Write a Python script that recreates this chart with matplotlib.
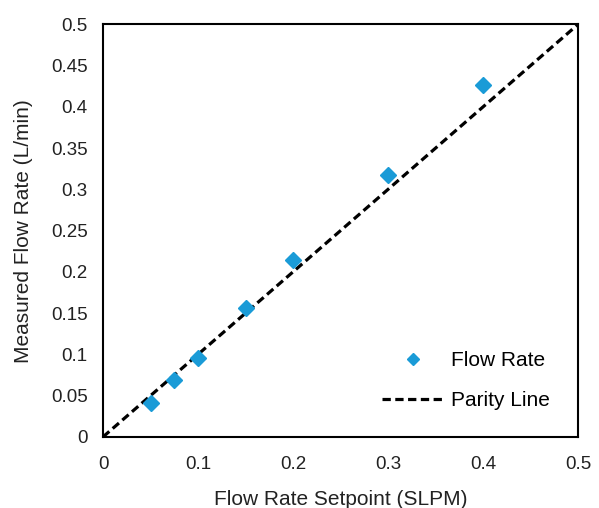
import matplotlib
matplotlib.use('Agg')
import matplotlib.pyplot as plt
import numpy as np

plt.rcParams['font.family'] = ['Liberation Sans', 'DejaVu Sans']

setpoint = [0.05, 0.075, 0.1, 0.15, 0.2, 0.3, 0.4]
measured = [0.041, 0.069, 0.096, 0.156, 0.215, 0.317, 0.426]

# Parity line end points
parity = [0, 0.5]

x_ticks = [0, 0.1, 0.2, 0.3, 0.4, 0.5]
x_tick_labels = ['0', '0.1', '0.2', '0.3', '0.4', '0.5']
y_ticks = [0, 0.05, 0.1, 0.15, 0.2, 0.25, 0.3, 0.35, 0.4, 0.45, 0.5]
y_tick_labels = ['0', '0.05', '0.1', '0.15', '0.2', '0.25', '0.3', '0.35', '0.4', '0.45', '0.5']

fig = plt.figure(figsize=(5.99, 5.08), dpi=100)
ax = fig.add_axes([0.172, 0.140, 0.793, 0.812])

ax.plot(setpoint, measured, linestyle='none', marker='D', markersize=8.5,
        color='#1a9bd7', label='Flow Rate', zorder=3)
ax.plot(parity, parity, linestyle=(0, (2.6, 1.4)), color='black', linewidth=2.3,
        label='Parity Line', zorder=2)

ax.set_xlim(0, 0.5)
ax.set_ylim(0, 0.5)
ax.set_xticks(x_ticks)
ax.set_xticklabels(x_tick_labels)
ax.set_yticks(y_ticks)
ax.set_yticklabels(y_tick_labels)
ax.tick_params(axis='both', length=0, labelsize=13.5, colors='#222222')
ax.tick_params(axis='x', pad=14)
ax.tick_params(axis='y', pad=11)

for s in ax.spines.values():
    s.set_linewidth(1.5)

ax.set_xlabel('Flow Rate Setpoint (SLPM)', fontsize=15, color='#222222', labelpad=12)
ax.set_ylabel('Measured Flow Rate (L/min)', fontsize=15, color='#222222', labelpad=13)

leg = ax.legend(loc='upper left', bbox_to_anchor=(0.57, 0.228), borderaxespad=0,
                frameon=False, fontsize=15, handlelength=3.0, handletextpad=0.33,
                labelspacing=1.0, markerscale=0.75)

fig.savefig('out.png', dpi=100)
